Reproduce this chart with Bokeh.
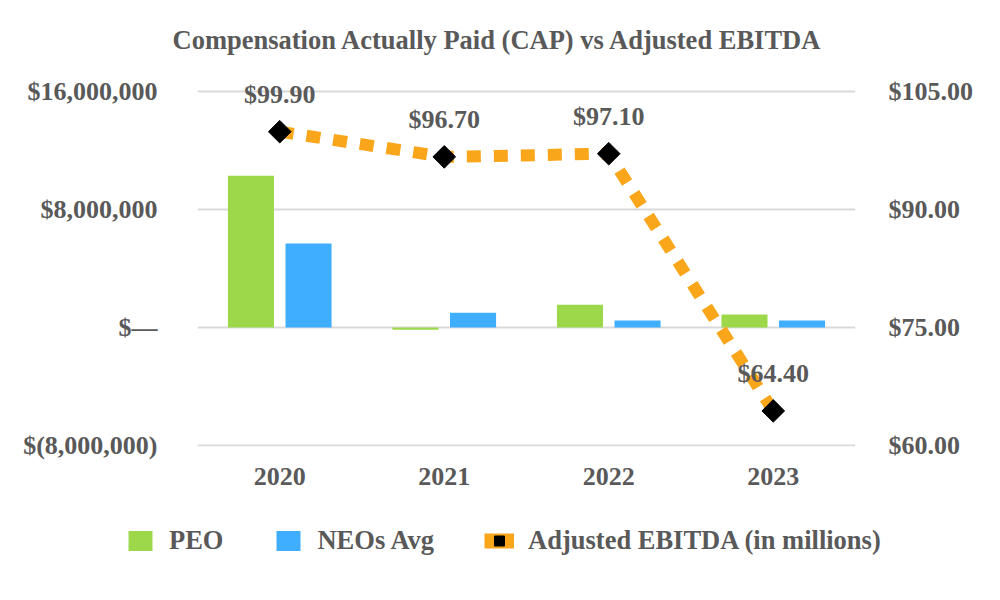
import numpy as np
from bokeh.plotting import figure
from bokeh.models import (Range1d, LinearAxis, FixedTicker, FactorRange,
                          ColumnDataSource, Legend, LegendItem, Title)
from bokeh.transform import dodge
from bokeh.core.properties import value
from bokeh.embed import file_html
from bokeh.resources import INLINE

years = ["2020", "2021", "2022", "2023"]
peo = [10_300_000, -150_000, 1_550_000, 880_000]
neos_avg = [5_700_000, 1_000_000, 470_000, 470_000]
ebitda = [99.9, 96.7, 97.1, 64.4]
ebitda_labels = ["$99.90", "$96.70", "$97.10", "$64.40"]
left_ticks = [-8_000_000, 0, 8_000_000, 16_000_000]
left_tick_labels = ["$(8,000,000)", "$\u2014", "$8,000,000", "$16,000,000"]
right_ticks = [60, 75, 90, 105]
right_tick_labels = ["$60.00", "$75.00", "$90.00", "$105.00"]
series_names = ["PEO", "NEOs Avg", "Adjusted EBITDA (in millions)"]
chart_title = "Compensation Actually Paid (CAP) vs Adjusted EBITDA"

FONT = "Liberation Serif"
GREY = "#595959"
GREEN = "#9CD84A"
BLUE = "#3FAEFF"
ORANGE = "#F9A61A"
FS = "26px"

src = ColumnDataSource(dict(year=years, peo=peo, neo=neos_avg,
                            ebitda=ebitda, lab=ebitda_labels))

# layout: gridline span 353px for 24M (left) / 45 (right); extra room on top
GRID_PX = 353.0
TOP_EXT_PX = 32.0
BOT_EXT_PX = 1.0
l_lo, l_hi = left_ticks[0], left_ticks[-1]
r_lo, r_hi = right_ticks[0], right_ticks[-1]
l_per_px = (l_hi - l_lo) / GRID_PX
r_per_px = (r_hi - r_lo) / GRID_PX

p = figure(width=984, height=515, x_range=FactorRange(*years),
           y_range=Range1d(l_lo - BOT_EXT_PX * l_per_px, l_hi + TOP_EXT_PX * l_per_px),
           output_backend="svg", toolbar_location=None, title=None,
           min_border_left=197, min_border_right=129,
           min_border_top=59, min_border_bottom=69)
p.extra_y_ranges = {"right": Range1d(r_lo - BOT_EXT_PX * r_per_px,
                                     r_hi + TOP_EXT_PX * r_per_px)}
p.outline_line_color = None
p.background_fill_color = "white"
p.border_fill_color = "white"

title = Title(text=chart_title, align="left", offset=-25, standoff=10,
              text_font=FONT, text_font_size="26.5px", text_font_style="bold",
              text_color=GREY)
p.add_layout(title, "above")

r_peo = p.vbar(x=dodge("year", -0.175, range=p.x_range), top="peo", bottom=0,
               width=0.28, source=src, fill_color=GREEN, line_color=None)
r_neo = p.vbar(x=dodge("year", 0.175, range=p.x_range), top="neo", bottom=0,
               width=0.28, source=src, fill_color=BLUE, line_color=None)

r_line = p.line(x="year", y="ebitda", source=src, y_range_name="right",
                line_color=ORANGE, line_width=12, line_dash="14 13")
r_pts = p.scatter(x="year", y="ebitda", source=src, y_range_name="right",
                  marker="square", angle=np.pi / 4, size=16,
                  fill_color="black", line_color="black")
p.text(x="year", y="ebitda", text="lab", source=src, y_range_name="right",
       y_offset=-37, text_align="center", text_baseline="middle",
       text_font=value(FONT), text_font_style="bold", text_font_size=FS,
       text_color=GREY)

# axes
p.yaxis.ticker = FixedTicker(ticks=left_ticks)
p.yaxis.major_label_overrides = dict(zip(left_ticks, left_tick_labels))
right_axis = LinearAxis(y_range_name="right", ticker=FixedTicker(ticks=right_ticks))
right_axis.major_label_overrides = dict(zip(right_ticks, right_tick_labels))
p.add_layout(right_axis, "right")

for ax in [p.yaxis[0], right_axis, p.xaxis[0]]:
    ax.axis_line_color = None
    ax.major_tick_line_color = None
    ax.minor_tick_line_color = None
    ax.major_label_text_font = FONT
    ax.major_label_text_font_style = "bold"
    ax.major_label_text_font_size = FS
    ax.major_label_text_color = GREY
p.yaxis[0].major_label_standoff = 34
right_axis.major_label_standoff = 27
p.xaxis[0].major_label_standoff = 15

p.xgrid.grid_line_color = None
p.ygrid.grid_line_color = "#D9D9D9"
p.ygrid.grid_line_width = 2

# legend strip: a second (separate root) figure with no axes whose renderers
# use the same data but are scrolled out of view; only the legend shows
lg = figure(width=984, height=69, x_range=FactorRange(*years),
            y_range=Range1d(1e12, 1e12 + 1),
            x_axis_type=None, y_axis_type=None,
            output_backend="svg", toolbar_location=None,
            min_border_left=0, min_border_right=0,
            min_border_top=0, min_border_bottom=0)
lg.grid.grid_line_color = None
lg.outline_line_color = None
lg.border_fill_color = "white"
lg.background_fill_color = "white"
l_peo = lg.vbar(x="year", top="peo", bottom=0, width=0.28, source=src,
                fill_color=GREEN, line_color=None)
l_neo = lg.vbar(x="year", top="neo", bottom=0, width=0.28, source=src,
                fill_color=BLUE, line_color=None)
l_line = lg.line(x="year", y="ebitda", source=src, line_color=ORANGE,
                 line_width=15)
l_pts = lg.scatter(x="year", y="ebitda", source=src, marker="square",
                   angle=np.pi / 4, size=20, fill_color="black",
                   line_color="black")

legend = Legend(items=[
    LegendItem(label=series_names[0], renderers=[l_peo]),
    LegendItem(label=series_names[1], renderers=[l_neo]),
    LegendItem(label=series_names[2], renderers=[l_line, l_pts]),
], orientation="horizontal", location=(125, 28))
legend.border_line_color = None
legend.background_fill_alpha = 0
legend.label_text_font = FONT
legend.label_text_font_style = "bold"
legend.label_text_font_size = "26.5px"
legend.label_text_color = GREY
legend.glyph_width = 30
legend.glyph_height = 25
legend.label_standoff = 14
legend.spacing = 50
legend.padding = 0
legend.margin = 0
lg.add_layout(legend, "center")

open("out.html", "w").write(file_html([p, lg], INLINE))
